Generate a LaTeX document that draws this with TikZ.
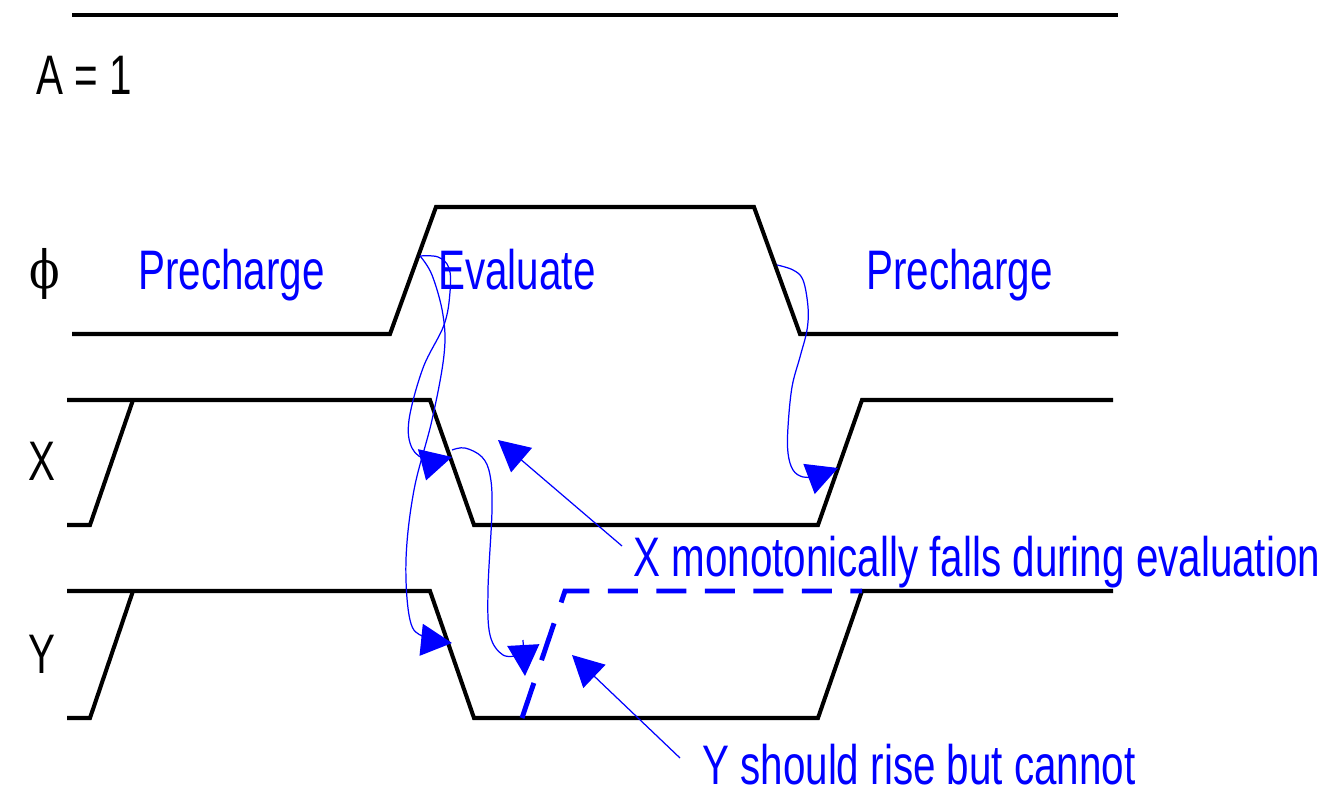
\documentclass[tikz,border=0pt]{standalone}
\usepackage{fontspec}
\setmainfont{Liberation Sans}
\newfontfamily\narrowfont[FakeStretch=0.725]{Liberation Sans}
\newfontfamily\phifont[FakeStretch=0.85]{DejaVu Serif}
\usetikzlibrary{arrows.meta}
\begin{document}
\begin{tikzpicture}[x=0.02cm,y=-0.02cm,
 sig/.style={line width=2.3pt, line join=miter},
 note/.style={blue, line width=0.7pt},
 head/.style={-{Triangle[length=0.62cm,width=0.64cm]}},
 lbl/.style={font=\narrowfont\fontsize{31.7}{38}\selectfont, inner sep=0, anchor=base west},
 ann/.style={lbl, text=blue},
 dsh/.style={blue, line width=2.8pt, line join=miter,
   dash pattern=on 0.74cm off 0.48cm on 0.78cm off 0.44cm on 0.73cm off 0.37cm
   on 0.6cm off 0.37cm on 0.6cm off 0.37cm on 0.6cm off 0.37cm
   on 0.6cm off 0.37cm on 0.6cm off 0.37cm on 0.6cm off 0.37cm}]
\useasboundingbox (0,0) rectangle (1333,790);

% signals
\draw[sig] (72,15) -- (1118,15);
\draw[sig] (72,334) -- (390,334) -- (436,207) -- (754,207) -- (800,334) -- (1118,334);
\draw[sig] (67,400) -- (430,400) -- (474,525) -- (818,525) -- (862,400) -- (1113,400);
\draw[sig] (67,525) -- (90,525) -- (133,400);
\draw[sig] (67,591) -- (430,591) -- (474,718) -- (818,718) -- (862,591) -- (1113,591);
\draw[sig] (67,718) -- (90,718) -- (133,591);
\draw[dsh] (522,718) -- (565,591) -- (862,591);

% labels
\node[lbl] (la) at (36,95) {A = 1};
\node[inner sep=0, font=\phifont\fontsize{30}{36}\selectfont] (lphi) at (45,274) {ϕ};
\node[lbl] (lx) at (28,481) {X};
\node[lbl] (ly) at (28,673) {Y};
\node[ann] (pre1) at (138,290) {Precharge};
\node[ann] (eval) at (438,290) {Evaluate};
\node[ann] (pre2) at (866,290) {Precharge};
\node[ann] (xmono) at (633,577) {X monotonically falls during evaluation};
\node[ann] (yrise) at (702,784) {Y should rise but cannot};

% coordinates
\coordinate (phiR) at (420,256);
\coordinate (phiF) at (777,265);
\coordinate (xF) at (452,457);
\coordinate (xF0) at (452,450);
\coordinate (yF) at (452,643);
\coordinate (yR) at (525,676);
\coordinate (xR) at (838,468);
\coordinate (xt) at (498,440);
\coordinate (xs) at (622,546);
\coordinate (yt) at (572,655);
\coordinate (ys) at (680,758);

% causality curves
\draw[note, head] plot[smooth, tension=0.6] coordinates {(phiR) (438,257) (449,268) (450,292) (444,325) (423,368) (409,420) (412,448) (428,460) (xF)};
\draw[note, head] plot[smooth, tension=0.6] coordinates {(phiR) (432,275) (443,315) (444,355) (432,420) (414,490) (406,560) (410,620) (424,637) (yF)};
\draw[note] plot[smooth, tension=0.6] coordinates {(xF0) (465,448) (482,457) (490,475) (492,510) (488,590) (490,635) (503,655) (520,655)};
\draw[note, head] (523,640) -- (yR);
\draw[note, head] plot[smooth, tension=0.6] coordinates {(phiF) (793,270) (803,280) (808,307) (807,330) (800,357) (792,387) (788,427) (788,453) (793,470) (803,477) (815,476) (xR)};

% annotation arrows
\draw[note, head] (xs) -- (xt);
\draw[note, head] (ys) -- (yt);
\end{tikzpicture}
\end{document}
